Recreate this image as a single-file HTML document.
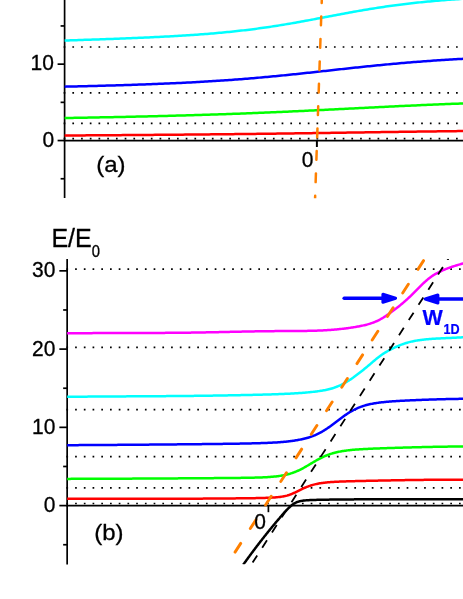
<!DOCTYPE html>
<html><head><meta charset="utf-8"><title>Energy levels</title>
<style>
html,body{margin:0;padding:0;background:#fff;}
svg{display:block;}
text{font-family:"Liberation Sans",sans-serif;}
svg{will-change:transform;}
</style></head>
<body>
<svg width="463" height="599" viewBox="0 0 463 599">
<rect x="0" y="0" width="463" height="599" fill="#fff"/>
<g id="top">
<defs><clipPath id="clipa"><rect x="0" y="0" width="463" height="198.2"/></clipPath></defs>
<line x1="63.63" y1="138.56" x2="463" y2="138.56" stroke="#000" stroke-width="1.7" stroke-dasharray="1.7 7.020"/>
<line x1="63.63" y1="123.47" x2="463" y2="123.47" stroke="#000" stroke-width="1.7" stroke-dasharray="1.7 7.020"/>
<line x1="63.63" y1="92.95" x2="463" y2="92.95" stroke="#000" stroke-width="1.7" stroke-dasharray="1.7 7.020"/>
<line x1="63.63" y1="47.00" x2="463" y2="47.00" stroke="#000" stroke-width="1.7" stroke-dasharray="1.7 7.020"/>
<line x1="64.6" y1="0" x2="64.6" y2="198" stroke="#000" stroke-width="1.7"/>
<line x1="63.849999999999994" y1="140.55" x2="463" y2="140.55" stroke="#000" stroke-width="1.7"/>
<line x1="57.599999999999994" y1="140.55" x2="64.6" y2="140.55" stroke="#000" stroke-width="1.7"/>
<line x1="57.599999999999994" y1="64.15" x2="64.6" y2="64.15" stroke="#000" stroke-width="1.7"/>
<line x1="60.599999999999994" y1="178.75" x2="64.6" y2="178.75" stroke="#000" stroke-width="1.7"/>
<line x1="60.599999999999994" y1="102.35" x2="64.6" y2="102.35" stroke="#000" stroke-width="1.7"/>
<line x1="60.599999999999994" y1="25.95" x2="64.6" y2="25.95" stroke="#000" stroke-width="1.7"/>
<line x1="316.8" y1="140.55" x2="316.8" y2="146.95000000000002" stroke="#000" stroke-width="1.7"/>
<path d="M64.60,135.50 L66.61,135.49 L68.61,135.48 L70.62,135.47 L72.63,135.45 L74.64,135.44 L76.64,135.43 L78.65,135.42 L80.66,135.40 L82.66,135.39 L84.67,135.38 L86.68,135.36 L88.68,135.35 L90.69,135.34 L92.70,135.32 L94.71,135.31 L96.71,135.30 L98.72,135.28 L100.73,135.27 L102.73,135.26 L104.74,135.24 L106.75,135.23 L108.75,135.22 L110.76,135.20 L112.77,135.19 L114.78,135.17 L116.78,135.16 L118.79,135.15 L120.80,135.13 L122.80,135.12 L124.81,135.10 L126.82,135.09 L128.83,135.07 L130.83,135.06 L132.84,135.04 L134.85,135.03 L136.85,135.01 L138.86,135.00 L140.87,134.98 L142.87,134.97 L144.88,134.95 L146.89,134.94 L148.90,134.92 L150.90,134.91 L152.91,134.89 L154.92,134.87 L156.92,134.86 L158.93,134.84 L160.94,134.83 L162.94,134.81 L164.95,134.79 L166.96,134.78 L168.97,134.76 L170.97,134.74 L172.98,134.72 L174.99,134.71 L176.99,134.69 L179.00,134.67 L181.01,134.65 L183.02,134.64 L185.02,134.62 L187.03,134.60 L189.04,134.58 L191.04,134.56 L193.05,134.55 L195.06,134.53 L197.06,134.51 L199.07,134.49 L201.08,134.47 L203.09,134.45 L205.09,134.43 L207.10,134.41 L209.11,134.39 L211.11,134.37 L213.12,134.35 L215.13,134.33 L217.13,134.31 L219.14,134.29 L221.15,134.27 L223.16,134.25 L225.16,134.22 L227.17,134.20 L229.18,134.18 L231.18,134.16 L233.19,134.14 L235.20,134.12 L237.21,134.09 L239.21,134.07 L241.22,134.05 L243.23,134.02 L245.23,134.00 L247.24,133.98 L249.25,133.95 L251.25,133.93 L253.26,133.91 L255.27,133.88 L257.28,133.86 L259.28,133.83 L261.29,133.81 L263.30,133.78 L265.30,133.76 L267.31,133.73 L269.32,133.71 L271.32,133.68 L273.33,133.66 L275.34,133.63 L277.35,133.61 L279.35,133.58 L281.36,133.55 L283.37,133.53 L285.37,133.50 L287.38,133.47 L289.39,133.45 L291.39,133.42 L293.40,133.39 L295.41,133.36 L297.42,133.34 L299.42,133.31 L301.43,133.28 L303.44,133.25 L305.44,133.22 L307.45,133.20 L309.46,133.17 L311.47,133.14 L313.47,133.11 L315.48,133.08 L317.49,133.05 L319.49,133.02 L321.50,133.00 L323.51,132.97 L325.51,132.94 L327.52,132.91 L329.53,132.88 L331.54,132.85 L333.54,132.82 L335.55,132.79 L337.56,132.76 L339.56,132.73 L341.57,132.70 L343.58,132.67 L345.58,132.64 L347.59,132.61 L349.60,132.58 L351.61,132.55 L353.61,132.52 L355.62,132.49 L357.63,132.47 L359.63,132.44 L361.64,132.41 L363.65,132.38 L365.66,132.35 L367.66,132.32 L369.67,132.29 L371.68,132.26 L373.68,132.23 L375.69,132.20 L377.70,132.17 L379.70,132.14 L381.71,132.11 L383.72,132.08 L385.73,132.06 L387.73,132.03 L389.74,132.00 L391.75,131.97 L393.75,131.94 L395.76,131.91 L397.77,131.89 L399.77,131.86 L401.78,131.83 L403.79,131.80 L405.80,131.77 L407.80,131.75 L409.81,131.72 L411.82,131.69 L413.82,131.67 L415.83,131.64 L417.84,131.61 L419.85,131.59 L421.85,131.56 L423.86,131.53 L425.87,131.51 L427.87,131.48 L429.88,131.46 L431.89,131.43 L433.89,131.41 L435.90,131.38 L437.91,131.36 L439.92,131.33 L441.92,131.31 L443.93,131.28 L445.94,131.26 L447.94,131.23 L449.95,131.21 L451.96,131.19 L453.96,131.16 L455.97,131.14 L457.98,131.12 L459.99,131.09 L461.99,131.07 L464.00,131.05" fill="none" stroke="#ff0000" stroke-width="2.5"/>
<path d="M64.60,118.04 L66.61,118.00 L68.61,117.97 L70.62,117.93 L72.63,117.90 L74.64,117.86 L76.64,117.82 L78.65,117.79 L80.66,117.75 L82.66,117.71 L84.67,117.68 L86.68,117.64 L88.68,117.60 L90.69,117.56 L92.70,117.53 L94.71,117.49 L96.71,117.45 L98.72,117.41 L100.73,117.37 L102.73,117.33 L104.74,117.29 L106.75,117.25 L108.75,117.21 L110.76,117.17 L112.77,117.13 L114.78,117.09 L116.78,117.05 L118.79,117.01 L120.80,116.97 L122.80,116.92 L124.81,116.88 L126.82,116.84 L128.83,116.79 L130.83,116.75 L132.84,116.71 L134.85,116.66 L136.85,116.62 L138.86,116.57 L140.87,116.52 L142.87,116.48 L144.88,116.43 L146.89,116.39 L148.90,116.34 L150.90,116.29 L152.91,116.24 L154.92,116.19 L156.92,116.14 L158.93,116.09 L160.94,116.04 L162.94,115.99 L164.95,115.94 L166.96,115.89 L168.97,115.84 L170.97,115.78 L172.98,115.73 L174.99,115.68 L176.99,115.62 L179.00,115.57 L181.01,115.51 L183.02,115.46 L185.02,115.40 L187.03,115.34 L189.04,115.28 L191.04,115.23 L193.05,115.17 L195.06,115.11 L197.06,115.05 L199.07,114.99 L201.08,114.92 L203.09,114.86 L205.09,114.80 L207.10,114.74 L209.11,114.67 L211.11,114.61 L213.12,114.54 L215.13,114.48 L217.13,114.41 L219.14,114.34 L221.15,114.27 L223.16,114.20 L225.16,114.14 L227.17,114.07 L229.18,113.99 L231.18,113.92 L233.19,113.85 L235.20,113.78 L237.21,113.70 L239.21,113.63 L241.22,113.55 L243.23,113.48 L245.23,113.40 L247.24,113.32 L249.25,113.25 L251.25,113.17 L253.26,113.09 L255.27,113.01 L257.28,112.93 L259.28,112.84 L261.29,112.76 L263.30,112.68 L265.30,112.60 L267.31,112.51 L269.32,112.43 L271.32,112.34 L273.33,112.25 L275.34,112.17 L277.35,112.08 L279.35,111.99 L281.36,111.90 L283.37,111.81 L285.37,111.72 L287.38,111.63 L289.39,111.54 L291.39,111.45 L293.40,111.35 L295.41,111.26 L297.42,111.17 L299.42,111.07 L301.43,110.98 L303.44,110.88 L305.44,110.79 L307.45,110.69 L309.46,110.59 L311.47,110.50 L313.47,110.40 L315.48,110.30 L317.49,110.20 L319.49,110.10 L321.50,110.00 L323.51,109.90 L325.51,109.80 L327.52,109.70 L329.53,109.60 L331.54,109.50 L333.54,109.40 L335.55,109.30 L337.56,109.20 L339.56,109.10 L341.57,109.00 L343.58,108.90 L345.58,108.80 L347.59,108.70 L349.60,108.59 L351.61,108.49 L353.61,108.39 L355.62,108.29 L357.63,108.19 L359.63,108.09 L361.64,107.99 L363.65,107.89 L365.66,107.78 L367.66,107.68 L369.67,107.58 L371.68,107.48 L373.68,107.38 L375.69,107.28 L377.70,107.18 L379.70,107.09 L381.71,106.99 L383.72,106.89 L385.73,106.79 L387.73,106.69 L389.74,106.60 L391.75,106.50 L393.75,106.40 L395.76,106.31 L397.77,106.21 L399.77,106.12 L401.78,106.02 L403.79,105.93 L405.80,105.84 L407.80,105.74 L409.81,105.65 L411.82,105.56 L413.82,105.47 L415.83,105.38 L417.84,105.29 L419.85,105.20 L421.85,105.11 L423.86,105.02 L425.87,104.94 L427.87,104.85 L429.88,104.76 L431.89,104.68 L433.89,104.60 L435.90,104.51 L437.91,104.43 L439.92,104.35 L441.92,104.26 L443.93,104.18 L445.94,104.10 L447.94,104.02 L449.95,103.95 L451.96,103.87 L453.96,103.79 L455.97,103.71 L457.98,103.64 L459.99,103.56 L461.99,103.49 L464.00,103.41" fill="none" stroke="#00ff00" stroke-width="2.5"/>
<path d="M64.60,86.66 L66.61,86.62 L68.61,86.57 L70.62,86.52 L72.63,86.48 L74.64,86.43 L76.64,86.38 L78.65,86.34 L80.66,86.29 L82.66,86.24 L84.67,86.19 L86.68,86.14 L88.68,86.09 L90.69,86.04 L92.70,85.99 L94.71,85.94 L96.71,85.89 L98.72,85.83 L100.73,85.78 L102.73,85.73 L104.74,85.67 L106.75,85.61 L108.75,85.56 L110.76,85.50 L112.77,85.44 L114.78,85.39 L116.78,85.33 L118.79,85.27 L120.80,85.21 L122.80,85.14 L124.81,85.08 L126.82,85.02 L128.83,84.95 L130.83,84.89 L132.84,84.82 L134.85,84.76 L136.85,84.69 L138.86,84.62 L140.87,84.55 L142.87,84.48 L144.88,84.41 L146.89,84.33 L148.90,84.26 L150.90,84.18 L152.91,84.11 L154.92,84.03 L156.92,83.95 L158.93,83.87 L160.94,83.79 L162.94,83.70 L164.95,83.62 L166.96,83.53 L168.97,83.45 L170.97,83.36 L172.98,83.27 L174.99,83.18 L176.99,83.08 L179.00,82.99 L181.01,82.89 L183.02,82.79 L185.02,82.69 L187.03,82.59 L189.04,82.49 L191.04,82.38 L193.05,82.28 L195.06,82.17 L197.06,82.06 L199.07,81.95 L201.08,81.83 L203.09,81.72 L205.09,81.60 L207.10,81.48 L209.11,81.36 L211.11,81.24 L213.12,81.11 L215.13,80.98 L217.13,80.85 L219.14,80.72 L221.15,80.59 L223.16,80.45 L225.16,80.31 L227.17,80.17 L229.18,80.03 L231.18,79.89 L233.19,79.74 L235.20,79.59 L237.21,79.44 L239.21,79.29 L241.22,79.13 L243.23,78.97 L245.23,78.81 L247.24,78.65 L249.25,78.49 L251.25,78.32 L253.26,78.15 L255.27,77.98 L257.28,77.81 L259.28,77.63 L261.29,77.45 L263.30,77.27 L265.30,77.09 L267.31,76.91 L269.32,76.72 L271.32,76.53 L273.33,76.34 L275.34,76.15 L277.35,75.96 L279.35,75.76 L281.36,75.57 L283.37,75.37 L285.37,75.17 L287.38,74.96 L289.39,74.76 L291.39,74.55 L293.40,74.35 L295.41,74.14 L297.42,73.93 L299.42,73.72 L301.43,73.51 L303.44,73.29 L305.44,73.08 L307.45,72.86 L309.46,72.65 L311.47,72.43 L313.47,72.21 L315.48,71.99 L317.49,71.77 L319.49,71.55 L321.50,71.33 L323.51,71.11 L325.51,70.89 L327.52,70.67 L329.53,70.45 L331.54,70.23 L333.54,70.01 L335.55,69.79 L337.56,69.57 L339.56,69.35 L341.57,69.13 L343.58,68.91 L345.58,68.69 L347.59,68.47 L349.60,68.25 L351.61,68.04 L353.61,67.82 L355.62,67.61 L357.63,67.40 L359.63,67.18 L361.64,66.97 L363.65,66.76 L365.66,66.56 L367.66,66.35 L369.67,66.15 L371.68,65.94 L373.68,65.74 L375.69,65.54 L377.70,65.34 L379.70,65.15 L381.71,64.95 L383.72,64.76 L385.73,64.57 L387.73,64.38 L389.74,64.19 L391.75,64.01 L393.75,63.82 L395.76,63.64 L397.77,63.46 L399.77,63.29 L401.78,63.11 L403.79,62.94 L405.80,62.77 L407.80,62.60 L409.81,62.44 L411.82,62.27 L413.82,62.11 L415.83,61.95 L417.84,61.80 L419.85,61.64 L421.85,61.49 L423.86,61.34 L425.87,61.19 L427.87,61.04 L429.88,60.90 L431.89,60.76 L433.89,60.62 L435.90,60.48 L437.91,60.35 L439.92,60.22 L441.92,60.08 L443.93,59.96 L445.94,59.83 L447.94,59.70 L449.95,59.58 L451.96,59.46 L453.96,59.34 L455.97,59.23 L457.98,59.11 L459.99,59.00 L461.99,58.89 L464.00,58.78" fill="none" stroke="#0000ff" stroke-width="2.5"/>
<path d="M64.60,40.52 L66.61,40.46 L68.61,40.40 L70.62,40.33 L72.63,40.27 L74.64,40.20 L76.64,40.14 L78.65,40.07 L80.66,40.01 L82.66,39.94 L84.67,39.87 L86.68,39.81 L88.68,39.74 L90.69,39.67 L92.70,39.60 L94.71,39.53 L96.71,39.46 L98.72,39.39 L100.73,39.32 L102.73,39.25 L104.74,39.18 L106.75,39.11 L108.75,39.04 L110.76,38.96 L112.77,38.89 L114.78,38.81 L116.78,38.74 L118.79,38.66 L120.80,38.58 L122.80,38.50 L124.81,38.43 L126.82,38.35 L128.83,38.26 L130.83,38.18 L132.84,38.10 L134.85,38.02 L136.85,37.93 L138.86,37.85 L140.87,37.76 L142.87,37.67 L144.88,37.58 L146.89,37.49 L148.90,37.40 L150.90,37.30 L152.91,37.21 L154.92,37.11 L156.92,37.01 L158.93,36.91 L160.94,36.81 L162.94,36.71 L164.95,36.61 L166.96,36.50 L168.97,36.39 L170.97,36.28 L172.98,36.17 L174.99,36.05 L176.99,35.94 L179.00,35.82 L181.01,35.70 L183.02,35.57 L185.02,35.45 L187.03,35.32 L189.04,35.19 L191.04,35.05 L193.05,34.92 L195.06,34.78 L197.06,34.64 L199.07,34.49 L201.08,34.34 L203.09,34.19 L205.09,34.04 L207.10,33.88 L209.11,33.72 L211.11,33.55 L213.12,33.39 L215.13,33.21 L217.13,33.04 L219.14,32.86 L221.15,32.68 L223.16,32.49 L225.16,32.30 L227.17,32.10 L229.18,31.90 L231.18,31.70 L233.19,31.49 L235.20,31.28 L237.21,31.06 L239.21,30.84 L241.22,30.61 L243.23,30.38 L245.23,30.14 L247.24,29.90 L249.25,29.66 L251.25,29.41 L253.26,29.15 L255.27,28.89 L257.28,28.62 L259.28,28.35 L261.29,28.08 L263.30,27.80 L265.30,27.51 L267.31,27.22 L269.32,26.92 L271.32,26.62 L273.33,26.32 L275.34,26.01 L277.35,25.69 L279.35,25.38 L281.36,25.05 L283.37,24.72 L285.37,24.39 L287.38,24.05 L289.39,23.71 L291.39,23.37 L293.40,23.02 L295.41,22.67 L297.42,22.31 L299.42,21.95 L301.43,21.59 L303.44,21.22 L305.44,20.85 L307.45,20.48 L309.46,20.11 L311.47,19.74 L313.47,19.36 L315.48,18.98 L317.49,18.60 L319.49,18.22 L321.50,17.84 L323.51,17.46 L325.51,17.08 L327.52,16.69 L329.53,16.31 L331.54,15.93 L333.54,15.55 L335.55,15.17 L337.56,14.79 L339.56,14.41 L341.57,14.04 L343.58,13.66 L345.58,13.29 L347.59,12.92 L349.60,12.56 L351.61,12.19 L353.61,11.83 L355.62,11.48 L357.63,11.12 L359.63,10.77 L361.64,10.42 L363.65,10.08 L365.66,9.74 L367.66,9.41 L369.67,9.08 L371.68,8.75 L373.68,8.43 L375.69,8.11 L377.70,7.80 L379.70,7.50 L381.71,7.19 L383.72,6.90 L385.73,6.60 L387.73,6.32 L389.74,6.03 L391.75,5.76 L393.75,5.48 L395.76,5.22 L397.77,4.95 L399.77,4.69 L401.78,4.44 L403.79,4.19 L405.80,3.95 L407.80,3.71 L409.81,3.48 L411.82,3.25 L413.82,3.03 L415.83,2.81 L417.84,2.59 L419.85,2.38 L421.85,2.18 L423.86,1.98 L425.87,1.78 L427.87,1.58 L429.88,1.40 L431.89,1.21 L433.89,1.03 L435.90,0.85 L437.91,0.68 L439.92,0.51 L441.92,0.34 L443.93,0.18 L445.94,0.02 L447.94,-0.13 L449.95,-0.29 L451.96,-0.44 L453.96,-0.58 L455.97,-0.72 L457.98,-0.87 L459.99,-1.00 L461.99,-1.14 L464.00,-1.27" fill="none" stroke="#00ffff" stroke-width="2.5"/>
<path d="M321.87,-2.00 L321.70,2.90 M321.24,16.60 L320.94,25.30 M320.48,39.00 L320.19,47.70 M319.72,61.40 L319.43,70.10 M318.96,83.80 L318.67,92.50 M318.21,106.20 L317.91,114.90 M317.45,128.60 L317.15,137.30 M316.69,151.00 L316.40,159.70 M315.93,173.40 L315.64,182.10 M315.17,195.80 L315.08,198.50" fill="none" stroke="#ff8000" stroke-width="2.5" stroke-linecap="round" clip-path="url(#clipa)"/>
<line x1="316.8" y1="140.55" x2="316.8" y2="146.95000000000002" stroke="#000" stroke-width="1.7"/>
<text transform="translate(53.8,70.0) scale(1,1.04)" font-size="21" text-anchor="end" font-weight="normal" fill="#000" stroke="#000" stroke-width="0.3">10</text>
<text transform="translate(54.2,146.9) scale(1,1.04)" font-size="21" text-anchor="end" font-weight="normal" fill="#000" stroke="#000" stroke-width="0.3">0</text>
<text transform="translate(307.5,167.3) scale(1,1.04)" font-size="21" text-anchor="middle" font-weight="normal" fill="#000" stroke="#000" stroke-width="0.3">0</text>
<text transform="translate(110.8,171.5) scale(1,0.95)" font-size="24" text-anchor="middle" font-weight="normal" fill="#000" stroke="#000" stroke-width="0.3">(a)</text>
</g>
<g id="bot">
<defs><clipPath id="clipb"><rect x="0" y="259" width="463" height="305.2"/></clipPath></defs>
<line x1="66.38" y1="503.50" x2="463" y2="503.50" stroke="#000" stroke-width="1.7" stroke-dasharray="1.7 7.025"/>
<line x1="66.38" y1="487.93" x2="463" y2="487.93" stroke="#000" stroke-width="1.7" stroke-dasharray="1.7 7.025"/>
<line x1="66.38" y1="456.60" x2="463" y2="456.60" stroke="#000" stroke-width="1.7" stroke-dasharray="1.7 7.025"/>
<line x1="66.38" y1="409.56" x2="463" y2="409.56" stroke="#000" stroke-width="1.7" stroke-dasharray="1.7 7.025"/>
<line x1="66.38" y1="347.40" x2="463" y2="347.40" stroke="#000" stroke-width="1.7" stroke-dasharray="1.7 7.025"/>
<line x1="66.38" y1="269.04" x2="463" y2="269.04" stroke="#000" stroke-width="1.7" stroke-dasharray="1.7 7.025"/>
<line x1="67.15" y1="259" x2="67.15" y2="564.4" stroke="#000" stroke-width="1.7"/>
<line x1="66.4" y1="505.6" x2="463" y2="505.6" stroke="#000" stroke-width="1.7"/>
<line x1="59.35000000000001" y1="505.60" x2="67.15" y2="505.60" stroke="#000" stroke-width="1.7"/>
<line x1="59.35000000000001" y1="427.35" x2="67.15" y2="427.35" stroke="#000" stroke-width="1.7"/>
<line x1="59.35000000000001" y1="349.10" x2="67.15" y2="349.10" stroke="#000" stroke-width="1.7"/>
<line x1="59.35000000000001" y1="270.85" x2="67.15" y2="270.85" stroke="#000" stroke-width="1.7"/>
<line x1="63.150000000000006" y1="544.73" x2="67.15" y2="544.73" stroke="#000" stroke-width="1.7"/>
<line x1="63.150000000000006" y1="466.48" x2="67.15" y2="466.48" stroke="#000" stroke-width="1.7"/>
<line x1="63.150000000000006" y1="388.23" x2="67.15" y2="388.23" stroke="#000" stroke-width="1.7"/>
<line x1="63.150000000000006" y1="309.98" x2="67.15" y2="309.98" stroke="#000" stroke-width="1.7"/>
<line x1="268.4" y1="505.6" x2="268.4" y2="512.2" stroke="#000" stroke-width="1.7"/>
<path d="M67.15,498.85 L68.14,498.85 L69.14,498.84 L70.13,498.84 L71.13,498.84 L72.12,498.83 L73.12,498.83 L74.11,498.83 L75.11,498.82 L76.10,498.82 L77.10,498.82 L78.09,498.81 L79.09,498.81 L80.08,498.81 L81.07,498.81 L82.07,498.80 L83.06,498.80 L84.06,498.80 L85.05,498.80 L86.05,498.79 L87.04,498.79 L88.04,498.79 L89.03,498.79 L90.03,498.79 L91.02,498.78 L92.02,498.78 L93.01,498.78 L94.00,498.78 L95.00,498.78 L95.99,498.78 L96.99,498.77 L97.98,498.77 L98.98,498.77 L99.97,498.77 L100.97,498.77 L101.96,498.77 L102.96,498.77 L103.95,498.77 L104.95,498.77 L105.94,498.76 L106.93,498.76 L107.93,498.76 L108.92,498.76 L109.92,498.76 L110.91,498.76 L111.91,498.76 L112.90,498.76 L113.90,498.76 L114.89,498.76 L115.89,498.76 L116.88,498.76 L117.88,498.76 L118.87,498.76 L119.86,498.76 L120.86,498.76 L121.85,498.76 L122.85,498.75 L123.84,498.75 L124.84,498.75 L125.83,498.75 L126.83,498.75 L127.82,498.75 L128.82,498.75 L129.81,498.75 L130.81,498.75 L131.80,498.75 L132.79,498.75 L133.79,498.75 L134.78,498.75 L135.78,498.75 L136.77,498.75 L137.77,498.75 L138.76,498.75 L139.76,498.75 L140.75,498.75 L141.75,498.75 L142.74,498.75 L143.74,498.75 L144.73,498.75 L145.72,498.75 L146.72,498.75 L147.71,498.75 L148.71,498.75 L149.70,498.75 L150.70,498.74 L151.69,498.74 L152.69,498.74 L153.68,498.74 L154.68,498.74 L155.67,498.74 L156.67,498.74 L157.66,498.74 L158.65,498.74 L159.65,498.74 L160.64,498.74 L161.64,498.74 L162.63,498.73 L163.63,498.73 L164.62,498.73 L165.62,498.73 L166.61,498.73 L167.61,498.73 L168.60,498.73 L169.59,498.73 L170.59,498.72 L171.58,498.72 L172.58,498.72 L173.57,498.72 L174.57,498.72 L175.56,498.71 L176.56,498.71 L177.55,498.71 L178.55,498.71 L179.54,498.71 L180.54,498.70 L181.53,498.70 L182.52,498.70 L183.52,498.70 L184.51,498.69 L185.51,498.69 L186.50,498.69 L187.50,498.68 L188.49,498.68 L189.49,498.68 L190.48,498.67 L191.48,498.67 L192.47,498.67 L193.47,498.66 L194.46,498.66 L195.45,498.66 L196.45,498.65 L197.44,498.65 L198.44,498.64 L199.43,498.64 L200.43,498.63 L201.42,498.63 L202.42,498.63 L203.41,498.62 L204.41,498.62 L205.40,498.61 L206.40,498.60 L207.39,498.60 L208.38,498.59 L209.38,498.59 L210.37,498.58 L211.37,498.58 L212.36,498.57 L213.36,498.56 L214.35,498.56 L215.35,498.55 L216.34,498.54 L217.34,498.54 L218.33,498.53 L219.33,498.52 L220.32,498.52 L221.31,498.51 L222.31,498.50 L223.30,498.49 L224.30,498.48 L225.29,498.48 L226.29,498.47 L227.28,498.46 L228.28,498.45 L229.27,498.44 L230.27,498.43 L231.26,498.42 L232.26,498.41 L233.25,498.40 L234.24,498.39 L235.24,498.38 L236.23,498.37 L237.23,498.36 L238.22,498.35 L239.22,498.34 L240.21,498.33 L241.21,498.32 L242.20,498.31 L243.20,498.30 L244.19,498.28 L245.19,498.27 L246.18,498.26 L247.17,498.25 L248.17,498.23 L249.16,498.22 L250.16,498.20 L251.15,498.19 L252.15,498.17 L253.14,498.16 L254.14,498.14 L255.13,498.13 L256.13,498.11 L257.12,498.09 L258.12,498.07 L259.11,498.05 L260.10,498.03 L261.10,498.00 L262.09,497.98 L263.09,497.95 L264.08,497.92 L265.08,497.89 L266.07,497.86 L267.07,497.82 L268.06,497.78 L269.06,497.74 L270.05,497.69 L271.05,497.64 L272.04,497.59 L273.03,497.53 L274.03,497.46 L275.02,497.39 L276.02,497.31 L277.01,497.22 L278.01,497.13 L279.00,497.02 L280.00,496.91 L280.99,496.78 L281.99,496.63 L282.98,496.47 L283.98,496.29 L284.97,496.09 L285.96,495.86 L286.96,495.60 L287.95,495.31 L288.95,495.00 L289.94,494.65 L290.94,494.28 L291.93,493.87 L292.93,493.44 L293.92,492.99 L294.92,492.52 L295.91,492.04 L296.91,491.56 L297.90,491.07 L298.89,490.58 L299.89,490.09 L300.88,489.60 L301.88,489.13 L302.87,488.66 L303.87,488.20 L304.86,487.76 L305.86,487.34 L306.85,486.93 L307.85,486.54 L308.84,486.17 L309.84,485.83 L310.83,485.50 L311.82,485.19 L312.82,484.90 L313.81,484.62 L314.81,484.37 L315.80,484.13 L316.80,483.91 L317.79,483.71 L318.79,483.52 L319.78,483.34 L320.78,483.18 L321.77,483.03 L322.77,482.90 L323.76,482.77 L324.75,482.65 L325.75,482.54 L326.74,482.44 L327.74,482.35 L328.73,482.26 L329.73,482.18 L330.72,482.11 L331.72,482.04 L332.71,481.97 L333.71,481.91 L334.70,481.85 L335.70,481.80 L336.69,481.75 L337.68,481.70 L338.68,481.66 L339.67,481.62 L340.67,481.58 L341.66,481.54 L342.66,481.50 L343.65,481.47 L344.65,481.43 L345.64,481.40 L346.64,481.37 L347.63,481.34 L348.63,481.31 L349.62,481.28 L350.61,481.25 L351.61,481.23 L352.60,481.20 L353.60,481.17 L354.59,481.15 L355.59,481.12 L356.58,481.10 L357.58,481.07 L358.57,481.05 L359.57,481.03 L360.56,481.00 L361.56,480.98 L362.55,480.96 L363.54,480.94 L364.54,480.91 L365.53,480.89 L366.53,480.87 L367.52,480.85 L368.52,480.82 L369.51,480.80 L370.51,480.78 L371.50,480.76 L372.50,480.74 L373.49,480.72 L374.48,480.70 L375.48,480.68 L376.47,480.66 L377.47,480.63 L378.46,480.61 L379.46,480.59 L380.45,480.57 L381.45,480.55 L382.44,480.53 L383.44,480.51 L384.43,480.49 L385.43,480.48 L386.42,480.46 L387.41,480.44 L388.41,480.42 L389.40,480.40 L390.40,480.38 L391.39,480.36 L392.39,480.34 L393.38,480.32 L394.38,480.31 L395.37,480.29 L396.37,480.27 L397.36,480.25 L398.36,480.24 L399.35,480.22 L400.34,480.20 L401.34,480.19 L402.33,480.17 L403.33,480.15 L404.32,480.14 L405.32,480.12 L406.31,480.11 L407.31,480.09 L408.30,480.08 L409.30,480.06 L410.29,480.05 L411.29,480.03 L412.28,480.02 L413.27,480.00 L414.27,479.99 L415.26,479.98 L416.26,479.96 L417.25,479.95 L418.25,479.94 L419.24,479.93 L420.24,479.92 L421.23,479.90 L422.23,479.89 L423.22,479.88 L424.22,479.87 L425.21,479.86 L426.20,479.85 L427.20,479.84 L428.19,479.83 L429.19,479.83 L430.18,479.82 L431.18,479.81 L432.17,479.80 L433.17,479.79 L434.16,479.79 L435.16,479.78 L436.15,479.77 L437.15,479.77 L438.14,479.76 L439.13,479.76 L440.13,479.75 L441.12,479.75 L442.12,479.75 L443.11,479.74 L444.11,479.74 L445.10,479.74 L446.10,479.74 L447.09,479.74 L448.09,479.73 L449.08,479.73 L450.08,479.73 L451.07,479.73 L452.06,479.74 L453.06,479.74 L454.05,479.74 L455.05,479.74 L456.04,479.74 L457.04,479.75 L458.03,479.75 L459.03,479.76 L460.02,479.76 L461.02,479.77 L462.01,479.77 L463.01,479.78 L464.00,479.79" fill="none" stroke="#ff0000" stroke-width="2.5"/>
<path d="M67.15,478.88 L68.14,478.88 L69.14,478.88 L70.13,478.88 L71.13,478.87 L72.12,478.87 L73.12,478.87 L74.11,478.86 L75.11,478.86 L76.10,478.86 L77.10,478.85 L78.09,478.85 L79.09,478.85 L80.08,478.84 L81.07,478.84 L82.07,478.84 L83.06,478.83 L84.06,478.83 L85.05,478.83 L86.05,478.82 L87.04,478.82 L88.04,478.81 L89.03,478.81 L90.03,478.81 L91.02,478.80 L92.02,478.80 L93.01,478.80 L94.00,478.79 L95.00,478.79 L95.99,478.78 L96.99,478.78 L97.98,478.78 L98.98,478.77 L99.97,478.77 L100.97,478.77 L101.96,478.76 L102.96,478.76 L103.95,478.75 L104.95,478.75 L105.94,478.75 L106.93,478.74 L107.93,478.74 L108.92,478.73 L109.92,478.73 L110.91,478.72 L111.91,478.72 L112.90,478.72 L113.90,478.71 L114.89,478.71 L115.89,478.70 L116.88,478.70 L117.88,478.69 L118.87,478.69 L119.86,478.69 L120.86,478.68 L121.85,478.68 L122.85,478.67 L123.84,478.67 L124.84,478.66 L125.83,478.66 L126.83,478.65 L127.82,478.65 L128.82,478.64 L129.81,478.64 L130.81,478.63 L131.80,478.63 L132.79,478.62 L133.79,478.62 L134.78,478.61 L135.78,478.61 L136.77,478.61 L137.77,478.60 L138.76,478.60 L139.76,478.59 L140.75,478.59 L141.75,478.58 L142.74,478.57 L143.74,478.57 L144.73,478.56 L145.72,478.56 L146.72,478.55 L147.71,478.55 L148.71,478.54 L149.70,478.54 L150.70,478.53 L151.69,478.53 L152.69,478.52 L153.68,478.52 L154.68,478.51 L155.67,478.51 L156.67,478.50 L157.66,478.49 L158.65,478.49 L159.65,478.48 L160.64,478.48 L161.64,478.47 L162.63,478.47 L163.63,478.46 L164.62,478.46 L165.62,478.45 L166.61,478.44 L167.61,478.44 L168.60,478.43 L169.59,478.43 L170.59,478.42 L171.58,478.41 L172.58,478.41 L173.57,478.40 L174.57,478.40 L175.56,478.39 L176.56,478.38 L177.55,478.38 L178.55,478.37 L179.54,478.37 L180.54,478.36 L181.53,478.35 L182.52,478.35 L183.52,478.34 L184.51,478.33 L185.51,478.33 L186.50,478.32 L187.50,478.31 L188.49,478.31 L189.49,478.30 L190.48,478.29 L191.48,478.29 L192.47,478.28 L193.47,478.27 L194.46,478.27 L195.45,478.26 L196.45,478.25 L197.44,478.25 L198.44,478.24 L199.43,478.23 L200.43,478.23 L201.42,478.22 L202.42,478.21 L203.41,478.21 L204.41,478.20 L205.40,478.19 L206.40,478.18 L207.39,478.18 L208.38,478.17 L209.38,478.16 L210.37,478.15 L211.37,478.15 L212.36,478.14 L213.36,478.13 L214.35,478.12 L215.35,478.12 L216.34,478.11 L217.34,478.10 L218.33,478.09 L219.33,478.08 L220.32,478.08 L221.31,478.07 L222.31,478.06 L223.30,478.05 L224.30,478.04 L225.29,478.03 L226.29,478.03 L227.28,478.02 L228.28,478.01 L229.27,478.00 L230.27,477.99 L231.26,477.98 L232.26,477.97 L233.25,477.96 L234.24,477.95 L235.24,477.94 L236.23,477.93 L237.23,477.92 L238.22,477.90 L239.22,477.89 L240.21,477.88 L241.21,477.87 L242.20,477.85 L243.20,477.84 L244.19,477.83 L245.19,477.81 L246.18,477.80 L247.17,477.78 L248.17,477.76 L249.16,477.74 L250.16,477.72 L251.15,477.70 L252.15,477.68 L253.14,477.66 L254.14,477.64 L255.13,477.61 L256.13,477.59 L257.12,477.56 L258.12,477.53 L259.11,477.50 L260.10,477.46 L261.10,477.43 L262.09,477.39 L263.09,477.34 L264.08,477.30 L265.08,477.25 L266.07,477.20 L267.07,477.14 L268.06,477.08 L269.06,477.02 L270.05,476.95 L271.05,476.87 L272.04,476.79 L273.03,476.70 L274.03,476.61 L275.02,476.51 L276.02,476.40 L277.01,476.28 L278.01,476.16 L279.00,476.02 L280.00,475.88 L280.99,475.72 L281.99,475.55 L282.98,475.37 L283.98,475.18 L284.97,474.97 L285.96,474.75 L286.96,474.51 L287.95,474.26 L288.95,473.99 L289.94,473.71 L290.94,473.40 L291.93,473.08 L292.93,472.74 L293.92,472.38 L294.92,472.00 L295.91,471.60 L296.91,471.18 L297.90,470.74 L298.89,470.28 L299.89,469.81 L300.88,469.32 L301.88,468.80 L302.87,468.28 L303.87,467.74 L304.86,467.18 L305.86,466.62 L306.85,466.04 L307.85,465.46 L308.84,464.87 L309.84,464.28 L310.83,463.69 L311.82,463.09 L312.82,462.50 L313.81,461.91 L314.81,461.33 L315.80,460.76 L316.80,460.19 L317.79,459.64 L318.79,459.10 L319.78,458.58 L320.78,458.06 L321.77,457.57 L322.77,457.09 L323.76,456.63 L324.75,456.19 L325.75,455.76 L326.74,455.36 L327.74,454.97 L328.73,454.60 L329.73,454.25 L330.72,453.91 L331.72,453.60 L332.71,453.30 L333.71,453.01 L334.70,452.74 L335.70,452.49 L336.69,452.25 L337.68,452.03 L338.68,451.81 L339.67,451.61 L340.67,451.43 L341.66,451.25 L342.66,451.08 L343.65,450.92 L344.65,450.78 L345.64,450.64 L346.64,450.51 L347.63,450.38 L348.63,450.27 L349.62,450.16 L350.61,450.05 L351.61,449.95 L352.60,449.86 L353.60,449.77 L354.59,449.69 L355.59,449.61 L356.58,449.53 L357.58,449.46 L358.57,449.39 L359.57,449.32 L360.56,449.26 L361.56,449.20 L362.55,449.14 L363.54,449.08 L364.54,449.03 L365.53,448.98 L366.53,448.93 L367.52,448.88 L368.52,448.83 L369.51,448.78 L370.51,448.74 L371.50,448.70 L372.50,448.65 L373.49,448.61 L374.48,448.57 L375.48,448.53 L376.47,448.49 L377.47,448.45 L378.46,448.42 L379.46,448.38 L380.45,448.34 L381.45,448.31 L382.44,448.27 L383.44,448.24 L384.43,448.20 L385.43,448.17 L386.42,448.14 L387.41,448.10 L388.41,448.07 L389.40,448.04 L390.40,448.00 L391.39,447.97 L392.39,447.94 L393.38,447.91 L394.38,447.88 L395.37,447.85 L396.37,447.82 L397.36,447.79 L398.36,447.76 L399.35,447.73 L400.34,447.70 L401.34,447.67 L402.33,447.64 L403.33,447.61 L404.32,447.58 L405.32,447.55 L406.31,447.52 L407.31,447.50 L408.30,447.47 L409.30,447.44 L410.29,447.41 L411.29,447.39 L412.28,447.36 L413.27,447.33 L414.27,447.31 L415.26,447.28 L416.26,447.26 L417.25,447.23 L418.25,447.21 L419.24,447.18 L420.24,447.16 L421.23,447.13 L422.23,447.11 L423.22,447.09 L424.22,447.06 L425.21,447.04 L426.20,447.02 L427.20,446.99 L428.19,446.97 L429.19,446.95 L430.18,446.93 L431.18,446.91 L432.17,446.89 L433.17,446.87 L434.16,446.85 L435.16,446.83 L436.15,446.81 L437.15,446.79 L438.14,446.77 L439.13,446.76 L440.13,446.74 L441.12,446.72 L442.12,446.71 L443.11,446.69 L444.11,446.68 L445.10,446.66 L446.10,446.65 L447.09,446.63 L448.09,446.62 L449.08,446.61 L450.08,446.59 L451.07,446.58 L452.06,446.57 L453.06,446.56 L454.05,446.55 L455.05,446.54 L456.04,446.53 L457.04,446.52 L458.03,446.51 L459.03,446.51 L460.02,446.50 L461.02,446.49 L462.01,446.49 L463.01,446.48 L464.00,446.48" fill="none" stroke="#00ff00" stroke-width="2.5"/>
<path d="M67.15,445.19 L68.14,445.19 L69.14,445.18 L70.13,445.17 L71.13,445.17 L72.12,445.16 L73.12,445.16 L74.11,445.15 L75.11,445.15 L76.10,445.14 L77.10,445.14 L78.09,445.13 L79.09,445.12 L80.08,445.12 L81.07,445.11 L82.07,445.11 L83.06,445.10 L84.06,445.09 L85.05,445.09 L86.05,445.08 L87.04,445.08 L88.04,445.07 L89.03,445.06 L90.03,445.06 L91.02,445.05 L92.02,445.04 L93.01,445.04 L94.00,445.03 L95.00,445.03 L95.99,445.02 L96.99,445.01 L97.98,445.01 L98.98,445.00 L99.97,444.99 L100.97,444.99 L101.96,444.98 L102.96,444.97 L103.95,444.97 L104.95,444.96 L105.94,444.95 L106.93,444.95 L107.93,444.94 L108.92,444.93 L109.92,444.92 L110.91,444.92 L111.91,444.91 L112.90,444.90 L113.90,444.90 L114.89,444.89 L115.89,444.88 L116.88,444.88 L117.88,444.87 L118.87,444.86 L119.86,444.85 L120.86,444.85 L121.85,444.84 L122.85,444.83 L123.84,444.82 L124.84,444.82 L125.83,444.81 L126.83,444.80 L127.82,444.79 L128.82,444.79 L129.81,444.78 L130.81,444.77 L131.80,444.76 L132.79,444.76 L133.79,444.75 L134.78,444.74 L135.78,444.73 L136.77,444.72 L137.77,444.72 L138.76,444.71 L139.76,444.70 L140.75,444.69 L141.75,444.68 L142.74,444.68 L143.74,444.67 L144.73,444.66 L145.72,444.65 L146.72,444.64 L147.71,444.64 L148.71,444.63 L149.70,444.62 L150.70,444.61 L151.69,444.60 L152.69,444.59 L153.68,444.59 L154.68,444.58 L155.67,444.57 L156.67,444.56 L157.66,444.55 L158.65,444.54 L159.65,444.53 L160.64,444.52 L161.64,444.52 L162.63,444.51 L163.63,444.50 L164.62,444.49 L165.62,444.48 L166.61,444.47 L167.61,444.46 L168.60,444.45 L169.59,444.44 L170.59,444.43 L171.58,444.43 L172.58,444.42 L173.57,444.41 L174.57,444.40 L175.56,444.39 L176.56,444.38 L177.55,444.37 L178.55,444.36 L179.54,444.35 L180.54,444.34 L181.53,444.33 L182.52,444.32 L183.52,444.31 L184.51,444.30 L185.51,444.29 L186.50,444.28 L187.50,444.27 L188.49,444.26 L189.49,444.25 L190.48,444.24 L191.48,444.23 L192.47,444.22 L193.47,444.21 L194.46,444.20 L195.45,444.19 L196.45,444.18 L197.44,444.17 L198.44,444.16 L199.43,444.15 L200.43,444.14 L201.42,444.13 L202.42,444.12 L203.41,444.10 L204.41,444.09 L205.40,444.08 L206.40,444.07 L207.39,444.06 L208.38,444.05 L209.38,444.04 L210.37,444.03 L211.37,444.01 L212.36,444.00 L213.36,443.99 L214.35,443.98 L215.35,443.97 L216.34,443.95 L217.34,443.94 L218.33,443.93 L219.33,443.92 L220.32,443.90 L221.31,443.89 L222.31,443.88 L223.30,443.87 L224.30,443.85 L225.29,443.84 L226.29,443.82 L227.28,443.81 L228.28,443.80 L229.27,443.78 L230.27,443.77 L231.26,443.75 L232.26,443.74 L233.25,443.72 L234.24,443.71 L235.24,443.69 L236.23,443.68 L237.23,443.66 L238.22,443.64 L239.22,443.63 L240.21,443.61 L241.21,443.59 L242.20,443.57 L243.20,443.56 L244.19,443.54 L245.19,443.52 L246.18,443.50 L247.17,443.48 L248.17,443.46 L249.16,443.43 L250.16,443.41 L251.15,443.39 L252.15,443.37 L253.14,443.34 L254.14,443.32 L255.13,443.29 L256.13,443.26 L257.12,443.24 L258.12,443.21 L259.11,443.18 L260.10,443.15 L261.10,443.11 L262.09,443.08 L263.09,443.05 L264.08,443.01 L265.08,442.97 L266.07,442.94 L267.07,442.89 L268.06,442.85 L269.06,442.81 L270.05,442.76 L271.05,442.72 L272.04,442.66 L273.03,442.61 L274.03,442.56 L275.02,442.50 L276.02,442.44 L277.01,442.38 L278.01,442.31 L279.00,442.24 L280.00,442.17 L280.99,442.09 L281.99,442.01 L282.98,441.93 L283.98,441.84 L284.97,441.75 L285.96,441.65 L286.96,441.55 L287.95,441.44 L288.95,441.32 L289.94,441.20 L290.94,441.08 L291.93,440.95 L292.93,440.81 L293.92,440.66 L294.92,440.51 L295.91,440.35 L296.91,440.18 L297.90,440.00 L298.89,439.82 L299.89,439.63 L300.88,439.43 L301.88,439.22 L302.87,439.00 L303.87,438.77 L304.86,438.53 L305.86,438.28 L306.85,438.01 L307.85,437.73 L308.84,437.43 L309.84,437.12 L310.83,436.79 L311.82,436.44 L312.82,436.08 L313.81,435.69 L314.81,435.29 L315.80,434.87 L316.80,434.42 L317.79,433.95 L318.79,433.46 L319.78,432.95 L320.78,432.41 L321.77,431.85 L322.77,431.26 L323.76,430.66 L324.75,430.03 L325.75,429.39 L326.74,428.73 L327.74,428.06 L328.73,427.36 L329.73,426.66 L330.72,425.94 L331.72,425.22 L332.71,424.48 L333.71,423.73 L334.70,422.98 L335.70,422.22 L336.69,421.47 L337.68,420.71 L338.68,419.95 L339.67,419.20 L340.67,418.45 L341.66,417.71 L342.66,416.98 L343.65,416.26 L344.65,415.55 L345.64,414.86 L346.64,414.19 L347.63,413.53 L348.63,412.89 L349.62,412.28 L350.61,411.68 L351.61,411.10 L352.60,410.55 L353.60,410.02 L354.59,409.51 L355.59,409.03 L356.58,408.56 L357.58,408.12 L358.57,407.70 L359.57,407.30 L360.56,406.92 L361.56,406.56 L362.55,406.22 L363.54,405.89 L364.54,405.59 L365.53,405.30 L366.53,405.03 L367.52,404.77 L368.52,404.52 L369.51,404.30 L370.51,404.08 L371.50,403.88 L372.50,403.68 L373.49,403.50 L374.48,403.33 L375.48,403.17 L376.47,403.01 L377.47,402.87 L378.46,402.73 L379.46,402.60 L380.45,402.48 L381.45,402.36 L382.44,402.25 L383.44,402.14 L384.43,402.04 L385.43,401.94 L386.42,401.85 L387.41,401.76 L388.41,401.68 L389.40,401.59 L390.40,401.52 L391.39,401.44 L392.39,401.37 L393.38,401.30 L394.38,401.23 L395.37,401.16 L396.37,401.10 L397.36,401.04 L398.36,400.98 L399.35,400.92 L400.34,400.86 L401.34,400.81 L402.33,400.75 L403.33,400.70 L404.32,400.65 L405.32,400.60 L406.31,400.55 L407.31,400.50 L408.30,400.45 L409.30,400.40 L410.29,400.36 L411.29,400.31 L412.28,400.27 L413.27,400.22 L414.27,400.18 L415.26,400.14 L416.26,400.10 L417.25,400.05 L418.25,400.01 L419.24,399.97 L420.24,399.93 L421.23,399.90 L422.23,399.86 L423.22,399.82 L424.22,399.78 L425.21,399.74 L426.20,399.71 L427.20,399.67 L428.19,399.64 L429.19,399.60 L430.18,399.57 L431.18,399.54 L432.17,399.50 L433.17,399.47 L434.16,399.44 L435.16,399.41 L436.15,399.38 L437.15,399.35 L438.14,399.32 L439.13,399.29 L440.13,399.26 L441.12,399.24 L442.12,399.21 L443.11,399.18 L444.11,399.16 L445.10,399.13 L446.10,399.11 L447.09,399.09 L448.09,399.06 L449.08,399.04 L450.08,399.02 L451.07,399.00 L452.06,398.98 L453.06,398.96 L454.05,398.94 L455.05,398.93 L456.04,398.91 L457.04,398.90 L458.03,398.88 L459.03,398.87 L460.02,398.85 L461.02,398.84 L462.01,398.83 L463.01,398.82 L464.00,398.81" fill="none" stroke="#0000ff" stroke-width="2.5"/>
<path d="M67.15,396.82 L68.14,396.81 L69.14,396.80 L70.13,396.79 L71.13,396.77 L72.12,396.76 L73.12,396.75 L74.11,396.74 L75.11,396.74 L76.10,396.73 L77.10,396.72 L78.09,396.71 L79.09,396.70 L80.08,396.69 L81.07,396.68 L82.07,396.67 L83.06,396.66 L84.06,396.65 L85.05,396.65 L86.05,396.64 L87.04,396.63 L88.04,396.62 L89.03,396.61 L90.03,396.61 L91.02,396.60 L92.02,396.59 L93.01,396.58 L94.00,396.58 L95.00,396.57 L95.99,396.56 L96.99,396.55 L97.98,396.55 L98.98,396.54 L99.97,396.53 L100.97,396.53 L101.96,396.52 L102.96,396.51 L103.95,396.51 L104.95,396.50 L105.94,396.49 L106.93,396.49 L107.93,396.48 L108.92,396.47 L109.92,396.47 L110.91,396.46 L111.91,396.46 L112.90,396.45 L113.90,396.44 L114.89,396.44 L115.89,396.43 L116.88,396.43 L117.88,396.42 L118.87,396.42 L119.86,396.41 L120.86,396.40 L121.85,396.40 L122.85,396.39 L123.84,396.39 L124.84,396.38 L125.83,396.38 L126.83,396.37 L127.82,396.36 L128.82,396.36 L129.81,396.35 L130.81,396.35 L131.80,396.34 L132.79,396.34 L133.79,396.33 L134.78,396.33 L135.78,396.32 L136.77,396.31 L137.77,396.31 L138.76,396.30 L139.76,396.30 L140.75,396.29 L141.75,396.29 L142.74,396.28 L143.74,396.27 L144.73,396.27 L145.72,396.26 L146.72,396.26 L147.71,396.25 L148.71,396.24 L149.70,396.24 L150.70,396.23 L151.69,396.23 L152.69,396.22 L153.68,396.21 L154.68,396.21 L155.67,396.20 L156.67,396.19 L157.66,396.19 L158.65,396.18 L159.65,396.17 L160.64,396.17 L161.64,396.16 L162.63,396.15 L163.63,396.15 L164.62,396.14 L165.62,396.13 L166.61,396.12 L167.61,396.12 L168.60,396.11 L169.59,396.10 L170.59,396.09 L171.58,396.09 L172.58,396.08 L173.57,396.07 L174.57,396.06 L175.56,396.05 L176.56,396.04 L177.55,396.04 L178.55,396.03 L179.54,396.02 L180.54,396.01 L181.53,396.00 L182.52,395.99 L183.52,395.98 L184.51,395.97 L185.51,395.96 L186.50,395.95 L187.50,395.94 L188.49,395.93 L189.49,395.92 L190.48,395.91 L191.48,395.90 L192.47,395.89 L193.47,395.88 L194.46,395.86 L195.45,395.85 L196.45,395.84 L197.44,395.83 L198.44,395.82 L199.43,395.81 L200.43,395.79 L201.42,395.78 L202.42,395.77 L203.41,395.75 L204.41,395.74 L205.40,395.73 L206.40,395.71 L207.39,395.70 L208.38,395.69 L209.38,395.67 L210.37,395.66 L211.37,395.64 L212.36,395.63 L213.36,395.61 L214.35,395.60 L215.35,395.58 L216.34,395.57 L217.34,395.55 L218.33,395.53 L219.33,395.52 L220.32,395.50 L221.31,395.49 L222.31,395.47 L223.30,395.45 L224.30,395.44 L225.29,395.42 L226.29,395.40 L227.28,395.38 L228.28,395.37 L229.27,395.35 L230.27,395.33 L231.26,395.31 L232.26,395.29 L233.25,395.27 L234.24,395.26 L235.24,395.24 L236.23,395.22 L237.23,395.20 L238.22,395.18 L239.22,395.16 L240.21,395.14 L241.21,395.12 L242.20,395.10 L243.20,395.08 L244.19,395.06 L245.19,395.04 L246.18,395.02 L247.17,394.99 L248.17,394.97 L249.16,394.95 L250.16,394.93 L251.15,394.91 L252.15,394.88 L253.14,394.86 L254.14,394.84 L255.13,394.81 L256.13,394.79 L257.12,394.76 L258.12,394.74 L259.11,394.72 L260.10,394.69 L261.10,394.66 L262.09,394.64 L263.09,394.61 L264.08,394.59 L265.08,394.56 L266.07,394.53 L267.07,394.50 L268.06,394.47 L269.06,394.44 L270.05,394.41 L271.05,394.38 L272.04,394.35 L273.03,394.32 L274.03,394.29 L275.02,394.25 L276.02,394.22 L277.01,394.19 L278.01,394.15 L279.00,394.11 L280.00,394.08 L280.99,394.04 L281.99,394.00 L282.98,393.96 L283.98,393.91 L284.97,393.87 L285.96,393.83 L286.96,393.78 L287.95,393.73 L288.95,393.68 L289.94,393.63 L290.94,393.58 L291.93,393.53 L292.93,393.47 L293.92,393.41 L294.92,393.35 L295.91,393.29 L296.91,393.23 L297.90,393.16 L298.89,393.10 L299.89,393.03 L300.88,392.95 L301.88,392.88 L302.87,392.80 L303.87,392.72 L304.86,392.64 L305.86,392.56 L306.85,392.47 L307.85,392.38 L308.84,392.29 L309.84,392.19 L310.83,392.09 L311.82,391.99 L312.82,391.88 L313.81,391.77 L314.81,391.65 L315.80,391.53 L316.80,391.40 L317.79,391.27 L318.79,391.13 L319.78,390.99 L320.78,390.84 L321.77,390.69 L322.77,390.52 L323.76,390.35 L324.75,390.17 L325.75,389.97 L326.74,389.77 L327.74,389.55 L328.73,389.31 L329.73,389.06 L330.72,388.79 L331.72,388.50 L332.71,388.19 L333.71,387.87 L334.70,387.53 L335.70,387.17 L336.69,386.79 L337.68,386.39 L338.68,385.97 L339.67,385.53 L340.67,385.07 L341.66,384.59 L342.66,384.09 L343.65,383.57 L344.65,383.03 L345.64,382.47 L346.64,381.89 L347.63,381.29 L348.63,380.67 L349.62,380.03 L350.61,379.38 L351.61,378.70 L352.60,378.01 L353.60,377.31 L354.59,376.58 L355.59,375.85 L356.58,375.10 L357.58,374.34 L358.57,373.58 L359.57,372.80 L360.56,372.02 L361.56,371.24 L362.55,370.44 L363.54,369.65 L364.54,368.84 L365.53,368.03 L366.53,367.22 L367.52,366.39 L368.52,365.56 L369.51,364.72 L370.51,363.87 L371.50,363.02 L372.50,362.16 L373.49,361.31 L374.48,360.46 L375.48,359.62 L376.47,358.80 L377.47,357.99 L378.46,357.20 L379.46,356.44 L380.45,355.71 L381.45,355.00 L382.44,354.33 L383.44,353.67 L384.43,353.05 L385.43,352.44 L386.42,351.86 L387.41,351.29 L388.41,350.74 L389.40,350.20 L390.40,349.68 L391.39,349.16 L392.39,348.66 L393.38,348.17 L394.38,347.69 L395.37,347.22 L396.37,346.76 L397.36,346.32 L398.36,345.89 L399.35,345.48 L400.34,345.08 L401.34,344.69 L402.33,344.32 L403.33,343.97 L404.32,343.63 L405.32,343.30 L406.31,342.99 L407.31,342.69 L408.30,342.41 L409.30,342.14 L410.29,341.89 L411.29,341.65 L412.28,341.43 L413.27,341.22 L414.27,341.01 L415.26,340.82 L416.26,340.64 L417.25,340.47 L418.25,340.31 L419.24,340.16 L420.24,340.02 L421.23,339.89 L422.23,339.76 L423.22,339.64 L424.22,339.53 L425.21,339.43 L426.20,339.33 L427.20,339.23 L428.19,339.14 L429.19,339.06 L430.18,338.98 L431.18,338.91 L432.17,338.84 L433.17,338.77 L434.16,338.71 L435.16,338.65 L436.15,338.59 L437.15,338.54 L438.14,338.48 L439.13,338.43 L440.13,338.38 L441.12,338.34 L442.12,338.29 L443.11,338.25 L444.11,338.20 L445.10,338.16 L446.10,338.12 L447.09,338.07 L448.09,338.03 L449.08,337.99 L450.08,337.95 L451.07,337.90 L452.06,337.86 L453.06,337.82 L454.05,337.77 L455.05,337.72 L456.04,337.67 L457.04,337.62 L458.03,337.57 L459.03,337.52 L460.02,337.47 L461.02,337.41 L462.01,337.35 L463.01,337.29 L464.00,337.22" fill="none" stroke="#00ffff" stroke-width="2.5"/>
<path d="M67.15,333.32 L68.14,333.31 L69.14,333.30 L70.13,333.29 L71.13,333.28 L72.12,333.27 L73.12,333.26 L74.11,333.25 L75.11,333.24 L76.10,333.23 L77.10,333.22 L78.09,333.22 L79.09,333.21 L80.08,333.20 L81.07,333.19 L82.07,333.19 L83.06,333.18 L84.06,333.17 L85.05,333.17 L86.05,333.16 L87.04,333.15 L88.04,333.15 L89.03,333.14 L90.03,333.14 L91.02,333.13 L92.02,333.13 L93.01,333.12 L94.00,333.12 L95.00,333.11 L95.99,333.11 L96.99,333.10 L97.98,333.10 L98.98,333.09 L99.97,333.09 L100.97,333.09 L101.96,333.08 L102.96,333.08 L103.95,333.08 L104.95,333.07 L105.94,333.07 L106.93,333.07 L107.93,333.06 L108.92,333.06 L109.92,333.06 L110.91,333.06 L111.91,333.05 L112.90,333.05 L113.90,333.05 L114.89,333.04 L115.89,333.04 L116.88,333.04 L117.88,333.04 L118.87,333.04 L119.86,333.03 L120.86,333.03 L121.85,333.03 L122.85,333.03 L123.84,333.02 L124.84,333.02 L125.83,333.02 L126.83,333.02 L127.82,333.02 L128.82,333.01 L129.81,333.01 L130.81,333.01 L131.80,333.01 L132.79,333.00 L133.79,333.00 L134.78,333.00 L135.78,333.00 L136.77,332.99 L137.77,332.99 L138.76,332.99 L139.76,332.99 L140.75,332.98 L141.75,332.98 L142.74,332.98 L143.74,332.97 L144.73,332.97 L145.72,332.97 L146.72,332.97 L147.71,332.96 L148.71,332.96 L149.70,332.95 L150.70,332.95 L151.69,332.95 L152.69,332.94 L153.68,332.94 L154.68,332.93 L155.67,332.93 L156.67,332.92 L157.66,332.92 L158.65,332.91 L159.65,332.91 L160.64,332.90 L161.64,332.90 L162.63,332.89 L163.63,332.89 L164.62,332.88 L165.62,332.87 L166.61,332.87 L167.61,332.86 L168.60,332.85 L169.59,332.85 L170.59,332.84 L171.58,332.83 L172.58,332.82 L173.57,332.82 L174.57,332.81 L175.56,332.80 L176.56,332.79 L177.55,332.78 L178.55,332.77 L179.54,332.76 L180.54,332.75 L181.53,332.74 L182.52,332.73 L183.52,332.72 L184.51,332.71 L185.51,332.70 L186.50,332.68 L187.50,332.67 L188.49,332.66 L189.49,332.65 L190.48,332.63 L191.48,332.62 L192.47,332.61 L193.47,332.59 L194.46,332.58 L195.45,332.56 L196.45,332.55 L197.44,332.53 L198.44,332.51 L199.43,332.50 L200.43,332.48 L201.42,332.46 L202.42,332.45 L203.41,332.43 L204.41,332.41 L205.40,332.39 L206.40,332.37 L207.39,332.35 L208.38,332.33 L209.38,332.31 L210.37,332.29 L211.37,332.27 L212.36,332.25 L213.36,332.23 L214.35,332.21 L215.35,332.19 L216.34,332.17 L217.34,332.15 L218.33,332.13 L219.33,332.10 L220.32,332.08 L221.31,332.06 L222.31,332.04 L223.30,332.02 L224.30,331.99 L225.29,331.97 L226.29,331.95 L227.28,331.93 L228.28,331.91 L229.27,331.88 L230.27,331.86 L231.26,331.84 L232.26,331.82 L233.25,331.80 L234.24,331.77 L235.24,331.75 L236.23,331.73 L237.23,331.71 L238.22,331.69 L239.22,331.67 L240.21,331.65 L241.21,331.63 L242.20,331.60 L243.20,331.58 L244.19,331.56 L245.19,331.54 L246.18,331.52 L247.17,331.51 L248.17,331.49 L249.16,331.47 L250.16,331.45 L251.15,331.43 L252.15,331.41 L253.14,331.40 L254.14,331.38 L255.13,331.36 L256.13,331.35 L257.12,331.33 L258.12,331.31 L259.11,331.30 L260.10,331.29 L261.10,331.27 L262.09,331.26 L263.09,331.24 L264.08,331.23 L265.08,331.22 L266.07,331.21 L267.07,331.20 L268.06,331.19 L269.06,331.17 L270.05,331.17 L271.05,331.16 L272.04,331.15 L273.03,331.14 L274.03,331.13 L275.02,331.12 L276.02,331.12 L277.01,331.11 L278.01,331.10 L279.00,331.10 L280.00,331.09 L280.99,331.09 L281.99,331.08 L282.98,331.07 L283.98,331.07 L284.97,331.06 L285.96,331.06 L286.96,331.05 L287.95,331.05 L288.95,331.04 L289.94,331.04 L290.94,331.03 L291.93,331.03 L292.93,331.02 L293.92,331.01 L294.92,331.01 L295.91,331.00 L296.91,330.99 L297.90,330.98 L298.89,330.97 L299.89,330.96 L300.88,330.95 L301.88,330.94 L302.87,330.93 L303.87,330.92 L304.86,330.91 L305.86,330.89 L306.85,330.88 L307.85,330.86 L308.84,330.84 L309.84,330.82 L310.83,330.80 L311.82,330.78 L312.82,330.75 L313.81,330.73 L314.81,330.70 L315.80,330.67 L316.80,330.64 L317.79,330.61 L318.79,330.57 L319.78,330.53 L320.78,330.49 L321.77,330.45 L322.77,330.40 L323.76,330.35 L324.75,330.30 L325.75,330.24 L326.74,330.18 L327.74,330.12 L328.73,330.06 L329.73,329.99 L330.72,329.91 L331.72,329.84 L332.71,329.76 L333.71,329.67 L334.70,329.59 L335.70,329.49 L336.69,329.40 L337.68,329.30 L338.68,329.20 L339.67,329.10 L340.67,328.99 L341.66,328.88 L342.66,328.77 L343.65,328.65 L344.65,328.53 L345.64,328.40 L346.64,328.28 L347.63,328.15 L348.63,328.01 L349.62,327.87 L350.61,327.73 L351.61,327.58 L352.60,327.43 L353.60,327.27 L354.59,327.11 L355.59,326.95 L356.58,326.77 L357.58,326.60 L358.57,326.41 L359.57,326.23 L360.56,326.03 L361.56,325.83 L362.55,325.62 L363.54,325.40 L364.54,325.17 L365.53,324.93 L366.53,324.68 L367.52,324.42 L368.52,324.13 L369.51,323.84 L370.51,323.53 L371.50,323.19 L372.50,322.84 L373.49,322.47 L374.48,322.08 L375.48,321.67 L376.47,321.24 L377.47,320.78 L378.46,320.30 L379.46,319.79 L380.45,319.26 L381.45,318.70 L382.44,318.11 L383.44,317.51 L384.43,316.88 L385.43,316.23 L386.42,315.57 L387.41,314.89 L388.41,314.20 L389.40,313.50 L390.40,312.78 L391.39,312.06 L392.39,311.33 L393.38,310.58 L394.38,309.83 L395.37,309.07 L396.37,308.30 L397.36,307.52 L398.36,306.73 L399.35,305.93 L400.34,305.12 L401.34,304.30 L402.33,303.47 L403.33,302.62 L404.32,301.77 L405.32,300.90 L406.31,300.01 L407.31,299.11 L408.30,298.19 L409.30,297.26 L410.29,296.30 L411.29,295.33 L412.28,294.34 L413.27,293.35 L414.27,292.34 L415.26,291.33 L416.26,290.31 L417.25,289.30 L418.25,288.29 L419.24,287.29 L420.24,286.30 L421.23,285.32 L422.23,284.35 L423.22,283.40 L424.22,282.48 L425.21,281.57 L426.20,280.70 L427.20,279.84 L428.19,279.02 L429.19,278.23 L430.18,277.48 L431.18,276.75 L432.17,276.06 L433.17,275.40 L434.16,274.78 L435.16,274.18 L436.15,273.60 L437.15,273.05 L438.14,272.53 L439.13,272.02 L440.13,271.53 L441.12,271.06 L442.12,270.61 L443.11,270.17 L444.11,269.74 L445.10,269.33 L446.10,268.93 L447.09,268.55 L448.09,268.17 L449.08,267.81 L450.08,267.46 L451.07,267.11 L452.06,266.78 L453.06,266.45 L454.05,266.13 L455.05,265.82 L456.04,265.52 L457.04,265.22 L458.03,264.92 L459.03,264.63 L460.02,264.34 L461.02,264.05 L462.01,263.77 L463.01,263.49 L464.00,263.21" fill="none" stroke="#ff00ff" stroke-width="2.5"/>
<path d="M243.16,564.82 L243.56,564.26 L243.96,563.70 L244.36,563.14 L244.76,562.58 L245.16,562.03 L245.56,561.47 L245.96,560.91 L246.37,560.35 L246.77,559.79 L247.18,559.23 L247.58,558.67 L247.99,558.11 L248.40,557.55 L248.81,556.99 L249.22,556.43 L249.63,555.87 L250.04,555.31 L250.45,554.75 L250.87,554.19 L251.28,553.63 L251.70,553.07 L252.11,552.51 L252.53,551.95 L252.95,551.39 L253.37,550.83 L253.79,550.27 L254.21,549.71 L254.63,549.15 L255.05,548.60 L255.47,548.04 L255.90,547.48 L256.32,546.92 L256.75,546.36 L257.18,545.80 L257.60,545.24 L258.03,544.68 L258.46,544.12 L258.89,543.56 L259.32,543.00 L259.76,542.44 L260.19,541.88 L260.62,541.32 L261.06,540.76 L261.50,540.20 L261.93,539.64 L262.37,539.08 L262.81,538.53 L263.25,537.97 L263.69,537.41 L264.13,536.85 L264.57,536.29 L265.02,535.73 L265.46,535.17 L265.90,534.61 L266.35,534.05 L266.80,533.49 L267.24,532.94 L267.69,532.38 L268.14,531.82 L268.59,531.26 L269.04,530.70 L269.50,530.14 L269.95,529.59 L270.40,529.03 L270.86,528.47 L271.31,527.91 L271.77,527.36 L272.23,526.80 L272.69,526.25 L273.15,525.69 L273.61,525.13 L274.07,524.58 L274.53,524.03 L274.99,523.47 L275.45,522.92 L275.92,522.37 L276.38,521.82 L276.85,521.27 L277.32,520.72 L277.78,520.17 L278.25,519.63 L278.72,519.08 L279.19,518.54 L279.66,517.96 L280.14,517.39 L280.61,516.82 L281.09,516.25 L281.56,515.68 L282.04,515.12 L282.52,514.56 L282.99,514.01 L283.47,513.46 L283.95,512.92 L284.43,512.38 L284.91,511.85 L285.39,511.33 L285.87,510.81 L286.35,510.30 L286.83,509.81 L287.31,509.32 L287.79,508.84 L288.27,508.37 L288.75,507.91 L289.23,507.47 L289.71,507.04 L290.15,506.62 L290.59,506.22 L291.04,505.83 L291.48,505.45 L291.92,505.10 L292.36,504.75 L292.81,504.43 L293.25,504.12 L293.69,503.82 L294.13,503.54 L294.58,503.28 L295.02,503.04 L295.46,502.81 L295.90,502.59 L296.35,502.39 L296.79,502.20 L297.23,502.03 L297.67,501.87 L298.11,501.72 L298.56,501.58 L299.00,501.45 L299.44,501.33 L299.88,501.22 L300.33,501.12 L300.77,501.03 L301.21,500.94 L301.65,500.87 L302.10,500.79 L302.54,500.73 L302.98,500.67 L303.42,500.61 L303.87,500.56 L304.31,500.51 L304.75,500.46 L305.19,500.42 L305.63,500.38 L306.08,500.34 L306.52,500.31 L306.96,500.28 L307.40,500.25 L307.85,500.22 L308.29,500.19 L308.73,500.17 L309.17,500.15 L309.62,500.12 L310.06,500.10 L310.50,500.08 L310.94,500.06 L311.39,500.05 L311.83,500.03 L312.27,500.01 L312.71,500.00 L313.15,499.98 L313.60,499.96 L314.04,499.95 L314.48,499.94 L314.92,499.92 L315.37,499.91 L315.81,499.90 L316.25,499.88 L316.69,499.87 L317.14,499.86 L317.58,499.85 L318.02,499.84 L318.46,499.83 L318.91,499.82 L319.35,499.81 L319.79,499.80 L320.23,499.79 L320.68,499.78 L321.12,499.77 L321.56,499.76 L322.00,499.75 L322.44,499.74 L322.89,499.73 L323.33,499.72 L323.77,499.72 L324.21,499.71 L324.66,499.70 L325.10,499.69 L325.54,499.68 L325.98,499.68 L326.43,499.67 L326.87,499.66 L327.31,499.65 L327.75,499.65 L328.20,499.64 L328.64,499.63 L329.08,499.63 L329.52,499.62 L329.96,499.61 L330.41,499.61 L330.85,499.60 L331.29,499.59 L331.73,499.59 L332.18,499.58 L332.62,499.57 L333.06,499.57 L333.50,499.56 L333.95,499.56 L334.39,499.55 L334.83,499.55 L335.27,499.54 L335.72,499.54 L336.16,499.53 L336.60,499.52 L337.04,499.52 L337.48,499.51 L337.93,499.51 L338.37,499.50 L338.81,499.50 L339.25,499.50 L339.70,499.49 L340.14,499.49 L340.58,499.48 L341.02,499.48 L341.47,499.47 L341.91,499.47 L342.35,499.46 L342.79,499.46 L343.24,499.46 L343.68,499.45 L344.12,499.45 L344.56,499.44 L345.00,499.44 L345.45,499.44 L345.89,499.43 L346.33,499.43 L346.77,499.43 L347.22,499.42 L347.66,499.42 L348.10,499.42 L348.54,499.41 L348.99,499.41 L349.43,499.41 L349.87,499.40 L350.31,499.40 L350.76,499.40 L351.20,499.39 L351.64,499.39 L352.08,499.39 L352.53,499.38 L352.97,499.38 L353.41,499.38 L353.85,499.38 L354.29,499.37 L354.74,499.37 L355.18,499.37 L355.62,499.36 L356.06,499.36 L356.51,499.36 L356.95,499.36 L357.39,499.35 L357.83,499.35 L358.28,499.35 L358.72,499.35 L359.16,499.35 L359.60,499.34 L360.05,499.34 L360.49,499.34 L360.93,499.34 L361.37,499.33 L361.81,499.33 L362.26,499.33 L362.70,499.33 L363.14,499.33 L363.58,499.32 L364.03,499.32 L364.47,499.32 L364.91,499.32 L365.35,499.32 L365.80,499.31 L366.24,499.31 L366.68,499.31 L367.12,499.31 L367.57,499.31 L368.01,499.31 L368.45,499.30 L368.89,499.30 L369.33,499.30 L369.78,499.30 L370.22,499.30 L370.66,499.30 L371.10,499.29 L371.55,499.29 L371.99,499.29 L372.43,499.29 L372.87,499.29 L373.32,499.29 L373.76,499.29 L374.20,499.28 L374.64,499.28 L375.09,499.28 L375.53,499.28 L375.97,499.28 L376.41,499.28 L376.85,499.28 L377.30,499.28 L377.74,499.27 L378.18,499.27 L378.62,499.27 L379.07,499.27 L379.51,499.27 L379.95,499.27 L380.39,499.27 L380.84,499.27 L381.28,499.27 L381.72,499.26 L382.16,499.26 L382.61,499.26 L383.05,499.26 L383.49,499.26 L383.93,499.26 L384.38,499.26 L384.82,499.26 L385.26,499.26 L385.70,499.26 L386.14,499.26 L386.59,499.25 L387.03,499.25 L387.47,499.25 L387.91,499.25 L388.36,499.25 L388.80,499.25 L389.24,499.25 L389.68,499.25 L390.13,499.25 L390.57,499.25 L391.01,499.25 L391.45,499.25 L391.90,499.25 L392.34,499.24 L392.78,499.24 L393.22,499.24 L393.66,499.24 L394.11,499.24 L394.55,499.24 L394.99,499.24 L395.43,499.24 L395.88,499.24 L396.32,499.24 L396.76,499.24 L397.20,499.24 L397.65,499.24 L398.09,499.24 L398.53,499.24 L398.97,499.23 L399.42,499.23 L399.86,499.23 L400.30,499.23 L400.74,499.23 L401.18,499.23 L401.63,499.23 L402.07,499.23 L402.51,499.23 L402.95,499.23 L403.40,499.23 L403.84,499.23 L404.28,499.23 L404.72,499.23 L405.17,499.23 L405.61,499.23 L406.05,499.23 L406.49,499.23 L406.94,499.23 L407.38,499.23 L407.82,499.23 L408.26,499.23 L408.70,499.22 L409.15,499.22 L409.59,499.22 L410.03,499.22 L410.47,499.22 L410.92,499.22 L411.36,499.22 L411.80,499.22 L412.24,499.22 L412.69,499.22 L413.13,499.22 L413.57,499.22 L414.01,499.22 L414.46,499.22 L414.90,499.22 L415.34,499.22 L415.78,499.22 L416.23,499.22 L416.67,499.22 L417.11,499.22 L417.55,499.22 L417.99,499.22 L418.44,499.22 L418.88,499.22 L419.32,499.22 L419.76,499.22 L420.21,499.22 L420.65,499.22 L421.09,499.22 L421.53,499.22 L421.98,499.22 L422.42,499.22 L422.86,499.21 L423.30,499.21 L423.75,499.21 L424.19,499.21 L424.63,499.21 L425.07,499.21 L425.51,499.21 L425.96,499.21 L426.40,499.21 L426.84,499.21 L427.28,499.21 L427.73,499.21 L428.17,499.21 L428.61,499.21 L429.05,499.21 L429.50,499.21 L429.94,499.21 L430.38,499.21 L430.82,499.21 L431.27,499.21 L431.71,499.21 L432.15,499.21 L432.59,499.21 L433.03,499.21 L433.48,499.21 L433.92,499.21 L434.36,499.21 L434.80,499.21 L435.25,499.21 L435.69,499.21 L436.13,499.21 L436.57,499.21 L437.02,499.21 L437.46,499.21 L437.90,499.21 L438.34,499.21 L438.79,499.21 L439.23,499.21 L439.67,499.21 L440.11,499.21 L440.55,499.21 L441.00,499.21 L441.44,499.21 L441.88,499.21 L442.32,499.21 L442.77,499.21 L443.21,499.21 L443.65,499.21 L444.09,499.21 L444.54,499.21 L444.98,499.21 L445.42,499.21 L445.86,499.21 L446.31,499.21 L446.75,499.21 L447.19,499.21 L447.63,499.21 L448.08,499.21 L448.52,499.21 L448.96,499.21 L449.40,499.21 L449.84,499.21 L450.29,499.21 L450.73,499.21 L451.17,499.21 L451.61,499.21 L452.06,499.21 L452.50,499.21 L452.94,499.21 L453.38,499.21 L453.83,499.20 L454.27,499.20 L454.71,499.20 L455.15,499.20 L455.60,499.20 L456.04,499.20 L456.48,499.20 L456.92,499.20 L457.36,499.20 L457.81,499.20 L458.25,499.20 L458.69,499.20 L459.13,499.20 L459.58,499.20 L460.02,499.20 L460.46,499.20 L460.90,499.20 L461.35,499.20 L461.79,499.20 L462.23,499.20 L462.67,499.20 L463.12,499.20 L463.56,499.20 L464.00,499.20" fill="none" stroke="#000" stroke-width="2.5" clip-path="url(#clipb)"/>
<path d="M235.06,552.12 L240.71,543.39 M250.30,528.56 L255.95,519.83 M265.54,505.00 L271.18,496.27 M280.77,481.44 L286.42,472.71 M296.01,457.88 L301.66,449.14 M311.25,434.31 L316.90,425.58 M326.49,410.75 L332.14,402.02 M341.73,387.19 L347.37,378.46 M356.96,363.63 L362.61,354.90 M372.20,340.07 L377.85,331.33 M387.44,316.50 L393.09,307.77 M402.68,292.94 L408.33,284.21 M417.92,269.38 L423.56,260.65" fill="none" stroke="#ff8000" stroke-width="2.9" stroke-linecap="round" clip-path="url(#clipb)"/>
<path d="M252.60,562.60 L257.20,555.45 M262.21,547.68 L266.97,540.28 M271.98,532.50 L276.75,525.10 M281.75,517.32 L286.52,509.93 M291.53,502.15 L296.29,494.75 M301.30,486.97 L306.06,479.57 M311.07,471.80 L315.84,464.40 M320.84,456.62 L325.61,449.22 M330.62,441.45 L335.38,434.05 M340.39,426.27 L345.15,418.87 M350.16,411.09 L354.92,403.70 M359.93,395.92 L364.70,388.52 M369.71,380.74 L374.47,373.34 M379.48,365.57 L384.24,358.17 M389.25,350.39 L394.01,342.99 M399.02,335.22 L403.79,327.82 M408.79,320.04 L413.56,312.64 M418.57,304.86 L423.33,297.46 M428.34,289.69 L433.10,282.29 M438.11,274.51 L442.88,267.11 M447.88,259.34 L448.10,259.00" fill="none" stroke="#000" stroke-width="1.8" stroke-linecap="butt" clip-path="url(#clipb)"/>
<rect x="446.9" y="259.1" width="2.1" height="0.85" fill="#000"/>
<g stroke="#0000ff" fill="#0000ff" stroke-linejoin="round" stroke-linecap="round">
<line x1="344.2" y1="298.2" x2="385" y2="298.2" stroke-width="3.6"/>
<path d="M382.9,294.2 L395.6,298.2 L382.9,302.2 Z" stroke-width="3"/>
<line x1="436" y1="299.0" x2="466" y2="299.0" stroke-width="3.6"/>
<path d="M437.9,295.0 L425.2,299.0 L437.9,303.0 Z" stroke-width="3"/>
</g>
<text transform="translate(422.4,324.7) scale(1,1.06)" font-size="21.5" text-anchor="start" font-weight="bold" fill="#0000ff" stroke="#0000ff" stroke-width="0.2">W</text>
<text transform="translate(443.5,333.6) scale(1,1.16)" font-size="12.6" text-anchor="start" font-weight="bold" fill="#0000ff" stroke="#0000ff" stroke-width="0.2">1D</text>
<text transform="translate(55.3,277.2) scale(1,1.04)" font-size="21" text-anchor="end" font-weight="normal" fill="#000" stroke="#000" stroke-width="0.3">30</text>
<text transform="translate(55.3,355.5) scale(1,1.04)" font-size="21" text-anchor="end" font-weight="normal" fill="#000" stroke="#000" stroke-width="0.3">20</text>
<text transform="translate(55.3,433.8) scale(1,1.04)" font-size="21" text-anchor="end" font-weight="normal" fill="#000" stroke="#000" stroke-width="0.3">10</text>
<text transform="translate(55.3,512.0) scale(1,1.04)" font-size="21" text-anchor="end" font-weight="normal" fill="#000" stroke="#000" stroke-width="0.3">0</text>
<text transform="translate(260,528.8) scale(1,1.04)" font-size="21" text-anchor="middle" font-weight="normal" fill="#000" stroke="#000" stroke-width="0.3">0</text>
<text transform="translate(51.4,246.6) scale(1,1.02)" font-size="25" text-anchor="start" font-weight="normal" fill="#000" stroke="#000" stroke-width="0.3">E/E</text>
<text transform="translate(91.7,257) scale(1,1.12)" font-size="14.8" text-anchor="start" font-weight="normal" fill="#000" stroke="#000" stroke-width="0.3">0</text>
<text transform="translate(108.8,539.8) scale(1,0.95)" font-size="24" text-anchor="middle" font-weight="normal" fill="#000" stroke="#000" stroke-width="0.3">(b)</text>
</g>
</svg>
</body></html>
